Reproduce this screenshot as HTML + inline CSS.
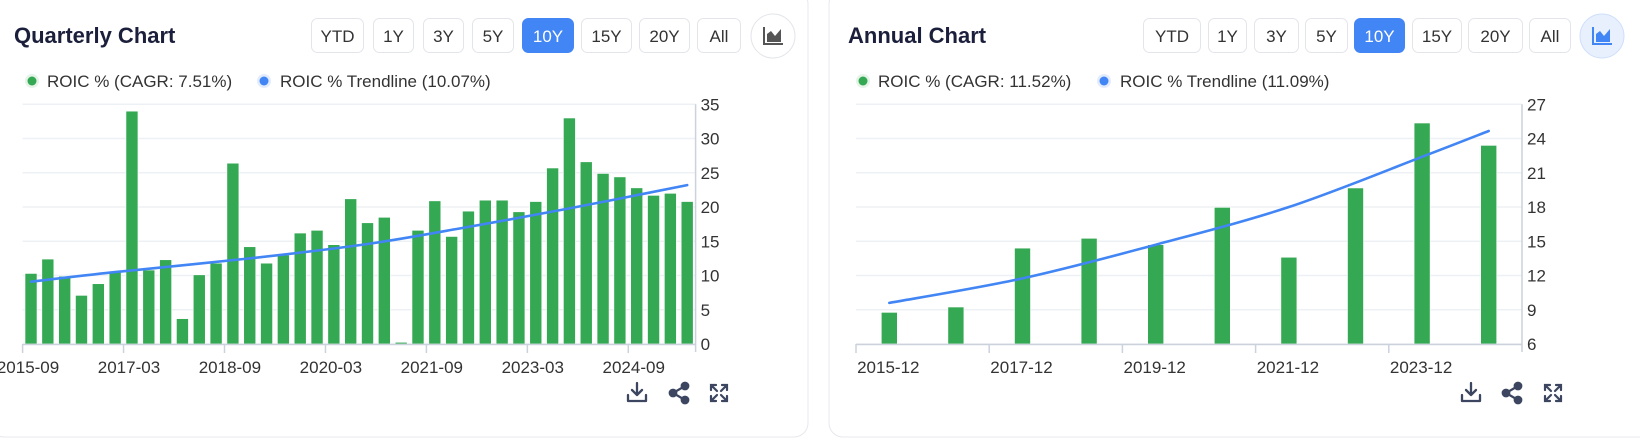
<!DOCTYPE html>
<html><head><meta charset="utf-8">
<style>
html,body{margin:0;padding:0;background:#fff;width:1640px;height:440px;overflow:hidden;font-family:"Liberation Sans",sans-serif;}
svg{position:absolute;left:0;top:0;}
</style></head>
<body>
<svg id="s" width="1640" height="440"></svg>
<script>
// ---- Quarterly data ----
const qLabels = ["2015-09","2017-03","2018-09","2020-03","2021-09","2023-03","2024-09"];
const qLabelIdx = [0,6,12,18,24,30,36];
const qValues = [10.3,12.4,9.9,7.1,8.8,10.6,34.0,10.8,12.3,3.7,10.1,11.8,26.4,14.2,11.8,13.0,16.2,16.6,14.5,21.2,17.7,18.5,0.25,16.6,20.9,15.7,19.4,21.0,21.0,19.3,20.8,25.7,33.0,26.6,24.9,24.4,22.8,21.7,22.0,20.8];
const qTrendIdx = [0,5,13,20,26,32,39];
const qTrendVals = [9.1,10.5,12.5,14.6,17.1,19.8,23.2];
const qTicks = [0,5,10,15,20,25,30,35];
// ---- Annual data ----
const aLabels = ["2015-12","2017-12","2019-12","2021-12","2023-12"];
const aLabelIdx = [0,2,4,6,8];
const aValues = [8.77,9.24,14.4,15.26,14.7,17.97,13.6,19.67,25.36,23.4];
const aTrendIdx = [0,2,4,6,8,9];
const aTrendVals = [9.6,11.75,14.7,18.0,22.4,24.66];
const aTicks = [6,9,12,15,18,21,24,27];

const NS="http://www.w3.org/2000/svg";
const svg=document.getElementById('s');
function el(tag,attrs,parent,text){const e=document.createElementNS(NS,tag);for(const k in attrs)e.setAttribute(k,attrs[k]);if(text!==undefined)e.textContent=text;(parent||svg).appendChild(e);return e;}

// cards
let c1=el('rect',{x:-10,y:-10,width:818,height:447,rx:14,fill:'#fff',stroke:'#e8e8ec'});


let c2=el('rect',{x:829,y:-10,width:830,height:447,rx:14,fill:'#fff',stroke:'#e8e8ec'});



function header(title,tx,btns,iconCx,iconActive,prefix){
  let t=el('text',{x:tx,y:43,'font-size':22,'font-weight':'bold',fill:'#1b1f3b'},svg,title);
  
  
  btns.forEach(b=>{
    const g=el('g',{});
    
    
    const act=b[0]==='10Y';
    el('rect',{x:b[1]+0.5,y:18.5,width:b[2]-b[1],height:34,rx:6,fill:act?'#4285f4':'#fff',stroke:act?'#4285f4':'#e3e5ea'},g);
    el('text',{x:(b[1]+b[2])/2+0.5,y:42,'font-size':17,'text-anchor':'middle',fill:act?'#fff':'#333'},g,b[0]);
  });
  const ig=el('g',{});
  
  
  el('circle',{cx:iconCx,cy:36,r:22,fill:iconActive?'#e8f0fe':'#fff',stroke:iconActive?'#cfe0fc':'#e3e5ea'},ig);
  const col=iconActive?'#4285f4':'#555';
  el('path',{d:`M${iconCx-9} ${36-9} V${36+8} H${iconCx+10}`,stroke:col,'stroke-width':2,fill:'none'},ig);
  el('path',{d:`M${iconCx-6} ${36+6} V${36-2} L${iconCx-2} ${36-5} L${iconCx+2} ${36} L${iconCx+8} ${36-7} V${36+6} Z`,fill:col},ig);
}
header('Quarterly Chart',14,[['YTD',311,363],['1Y',373,413],['3Y',423,463],['5Y',472,513],['10Y',522,573],['15Y',581,631],['20Y',639,689],['All',697,740]],773,false,'quarterly');
header('Annual Chart',848,[['YTD',1143,1200],['1Y',1208,1246],['3Y',1254,1298],['5Y',1305,1347],['10Y',1354,1404],['15Y',1412,1461],['20Y',1468,1522],['All',1529,1570]],1602,true,'annual');

function legend(x1,t1,x2,t2,prefix){
  let g=el('g',{});
  el('circle',{cx:x1,cy:81,r:7,fill:'#e5f3e8'},g);el('circle',{cx:x1,cy:81,r:4.5,fill:'#34a853'},g);
  el('text',{x:x1+15,y:87,'font-size':17,fill:'#333'},g,t1);
  let h=el('g',{});
  el('circle',{cx:x2,cy:81,r:7,fill:'#e3ecfd'},h);el('circle',{cx:x2,cy:81,r:4.5,fill:'#4285f4'},h);
  el('text',{x:x2+16,y:87,'font-size':17,fill:'#333'},h,t2);
}
legend(32,'ROIC % (CAGR: 7.51%)',264,'ROIC % Trendline (10.07%)','quarterly');
legend(863,'ROIC % (CAGR: 11.52%)',1104,'ROIC % Trendline (11.09%)','annual');

function chart(o){
  const {L,R,T,B,min,max,ticks,values,labels,labelIdx,tIdx,tVals,barW,prefix,lblShift}=o;
  const n=values.length, slot=(R-L)/n;
  const xc=i=>L+slot*(i+0.5);
  const y=v=>B-(v-min)/(max-min)*(B-T);
  ticks.forEach(t=>{
    let g=el('line',{x1:L,x2:R,y1:y(t),y2:y(t),stroke:'#edf0f4','stroke-width':1.5});
    
    
    let tl=el('text',{x:R+5,y:y(t)+6,'font-size':17,fill:'#333'},svg,String(t));
    
    
  });
  values.forEach((v,i)=>{
    let r=el('rect',{x:xc(i)-barW/2,y:y(v),width:barW,height:B-y(v),fill:'#34a853',stroke:'#fff','stroke-width':0.6});
    
    
  });
  let ax=el('line',{x1:L,x2:R,y1:B+0.5,y2:B+0.5,stroke:'#ccd2dc','stroke-width':1.5});
  
  
  let ay=el('line',{x1:R,x2:R,y1:T,y2:B+8,stroke:'#ccd2dc','stroke-width':1.5});
  
  
  labelIdx.forEach((idx,k)=>{
    const tx=L+slot*idx;
    el('line',{x1:tx,x2:tx,y1:B,y2:B+9,stroke:'#ccd2dc','stroke-width':1.5});
    let lb=el('text',{x:xc(idx)+lblShift,y:B+29,'font-size':17,'text-anchor':'middle',fill:'#333'},svg,labels[k]);
    
    
  });
  const pts=tIdx.map((idx,k)=>[xc(idx),y(tVals[k])]);
  let d='M'+pts[0][0]+' '+pts[0][1];
  for(let i=0;i<pts.length-1;i++){
    const p0=pts[Math.max(0,i-1)],p1=pts[i],p2=pts[i+1],p3=pts[Math.min(pts.length-1,i+2)];
    d+=` C${p1[0]+(p2[0]-p0[0])/6} ${p1[1]+(p2[1]-p0[1])/6} ${p2[0]-(p3[0]-p1[0])/6} ${p2[1]-(p3[1]-p1[1])/6} ${p2[0]} ${p2[1]}`;
  }
  let tl=el('path',{d:d,fill:'none',stroke:'#4285f4','stroke-width':2.6,'stroke-linecap':'round'});
  
  
}
chart({L:22.6,R:695.6,T:104.3,B:344,min:0,max:35,ticks:qTicks,values:qValues,labels:qLabels,labelIdx:qLabelIdx,tIdx:qTrendIdx,tVals:qTrendVals,barW:12,prefix:'quarterly',lblShift:-3});
chart({L:856,R:1522,T:104.3,B:344,min:6,max:27,ticks:aTicks,values:aValues,labels:aLabels,labelIdx:aLabelIdx,tIdx:aTrendIdx,tVals:aTrendVals,barW:16,prefix:'annual',lblShift:-1});

function tools(x1,x2,x3,prefix){
  const c='#3d4660',cy=393;
  let g=el('g',{stroke:c,'stroke-width':2.3,fill:'none','stroke-linecap':'round','stroke-linejoin':'round'});
  
  el('path',{d:`M${x1} ${cy-10} V${cy+2} M${x1-5} ${cy-3} L${x1} ${cy+2} L${x1+5} ${cy-3} M${x1-9} ${cy+2} V${cy+8} H${x1+9} V${cy+2}`},g);
  let s=el('g',{fill:c,stroke:c,'stroke-width':2.2});
  
  el('circle',{cx:x2+6,cy:cy-7,r:3.3},s);el('circle',{cx:x2-6,cy:cy,r:3.3},s);el('circle',{cx:x2+6,cy:cy+7,r:3.3},s);
  el('path',{d:`M${x2+6} ${cy-7} L${x2-6} ${cy} L${x2+6} ${cy+7}`,fill:'none'},s);
  let e=el('g',{stroke:c,'stroke-width':2.2,fill:'none','stroke-linecap':'round'});
  
  el('path',{d:`M${x3-8} ${cy-8} L${x3-2} ${cy-2} M${x3+8} ${cy-8} L${x3+2} ${cy-2} M${x3-8} ${cy+8} L${x3-2} ${cy+2} M${x3+8} ${cy+8} L${x3+2} ${cy+2} M${x3-8} ${cy-3} V${cy-8} H${x3-3} M${x3+3} ${cy-8} H${x3+8} V${cy-3} M${x3-8} ${cy+3} V${cy+8} H${x3-3} M${x3+3} ${cy+8} H${x3+8} V${cy+3}`},e);
}
tools(637,679,719,'quarterly');
tools(1471,1512,1553,'annual');
</script>
</body></html>
